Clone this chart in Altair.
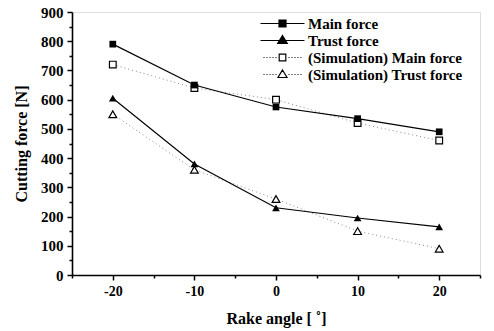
import altair as alt
import pandas as pd

rake = [-20, -10, 0, 10, 20]
main_force = [790, 650, 575, 535, 490]
trust_force = [605, 380, 230, 195, 165]
sim_main = [720, 640, 600, 520, 460]
sim_trust = [550, 360, 260, 150, 90]

series_names = ["Main force", "Trust force", "(Simulation) Main force", "(Simulation) Trust force"]
series_vals = [main_force, trust_force, sim_main, sim_trust]
kinds = ["square", "triangle", "square", "triangle"]
measured = [True, True, False, False]

rows = []
for name, vals, k, m in zip(series_names, series_vals, kinds, measured):
    for x, y in zip(rake, vals):
        rows.append({"angle": x, "force": y, "series": name, "kind": k, "measured": m})
df = pd.DataFrame(rows)

FONT = "Liberation Serif"

# ---- legend symbol paths (line + marker), designed in px then scaled ----
SYM_SIZE = 225
R = SYM_SIZE ** 0.5 / 2   # px per path unit


def u(v):
    return f"{v / R:.3f}"


def dotted(a, b, step=3.0, seg=1.0):
    parts = []
    x = a
    while x < b - 1e-6:
        parts.append(f"M{u(x)},0H{u(min(x + seg, b))}")
        x += step
    return "".join(parts)


def square(h, solid):
    p = f"M{u(-h)},{u(-h)}H{u(h)}V{u(h)}H{u(-h)}Z"
    if solid:
        y = -h + 1
        while y < h:
            p += f"M{u(-h)},{u(y)}H{u(h)}"
            y += 1
    return p


def triangle(top, bot, hw, solid):
    p = f"M0,{u(top)}L{u(hw)},{u(bot)}H{u(-hw)}Z"
    if solid:
        y = top + 1
        while y < bot:
            w = hw * (y - top) / (bot - top)
            p += f"M{u(-w)},{u(y)}H{u(w)}"
            y += 1
    return p


LH = 22  # half line length px
legend_paths = [
    f"M{u(-LH)},0H{u(LH)}" + square(3.5, True),
    f"M{u(-LH)},0H{u(LH)}" + triangle(-5, 3, 4.8, True),
    dotted(-LH + 3, -6) + dotted(6, LH - 3) + square(3.3, False),
    dotted(-LH + 3, -6) + dotted(6, LH - 3) + triangle(-4.5, 3, 4.5, False),
]

x_scale = alt.Scale(domain=[-25, 25], nice=False, zero=False)
y_scale = alt.Scale(domain=[0, 900], nice=False)

x_axis = alt.Axis(
    title="Rake angle [ ˚]",
    values=[-25, -20, -15, -10, -5, 0, 5, 10, 15, 20, 25],
    labelExpr="datum.value % 10 == 0 && abs(datum.value) < 25 ? toString(datum.value) : ''",
    tickSize={"condition": {"test": "datum.value % 10 != 0", "value": 3}, "value": 5},
    grid=False, domainColor="black", domainWidth=1.6, tickColor="black", tickWidth=1.5,
    labelFont=FONT, labelFontSize=14, labelFontWeight="bold", labelColor="black",
    labelPadding=4, titleFont=FONT, titleFontSize=16, titleFontWeight="bold",
    titleColor="black", titlePadding=12,
)
y_axis = alt.Axis(
    title="Cutting force [N]",
    values=list(range(0, 901, 50)),
    labelExpr="datum.value % 100 == 0 ? datum.label : ''",
    tickSize={"condition": {"test": "datum.value % 100 != 0", "value": 3}, "value": 5},
    grid=False, domainColor="black", domainWidth=1.6, tickColor="black", tickWidth=1.5,
    labelFont=FONT, labelFontSize=15, labelFontWeight="bold", labelColor="black",
    labelPadding=4, titleFont=FONT, titleFontSize=16, titleFontWeight="bold",
    titleColor="black", titlePadding=11,
)

base = alt.Chart(df)
X = alt.X("angle:Q", scale=x_scale, axis=x_axis)
Y = alt.Y("force:Q", scale=y_scale, axis=y_axis)

sim_lines = base.transform_filter("!datum.measured").mark_line(
    color="#8a8a8a", strokeWidth=1, strokeDash=[1, 3]
).encode(x=X, y=Y, detail="series:N")

meas_lines = base.transform_filter("datum.measured").mark_line(
    color="black", strokeWidth=1.2
).encode(x=X, y=Y, detail="series:N")


def pts(is_measured, kind):
    shp = "square" if kind == "square" else "triangle-up"
    sz = 45 if kind == "square" else 60
    flt = ("datum.measured" if is_measured else "!datum.measured") + f" && datum.kind == '{kind}'"
    if is_measured:
        mk = base.transform_filter(flt).mark_point(
            shape=shp, filled=True, color="black", size=sz, opacity=1)
    else:
        mk = base.transform_filter(flt).mark_point(
            shape=shp, filled=False, fill="white", stroke="black", strokeWidth=1.2, size=sz, opacity=1)
    return mk.encode(x=X, y=Y)


leg = alt.Legend(
    title=None, orient="none", legendX=202, legendY=3,
    symbolSize=SYM_SIZE, symbolStrokeColor="black", symbolStrokeWidth=1.2,
    symbolFillColor="transparent",
    symbolOpacity=1, labelFont=FONT, labelFontSize=15, labelFontWeight="bold",
    labelColor="black", labelOffset=17, rowPadding=0,
)

legend_layer = base.transform_filter("false").mark_point(
    filled=False, color="black", strokeWidth=1.2, size=SYM_SIZE, opacity=1
).encode(
    x=X, y=Y,
    shape=alt.Shape("series:N", scale=alt.Scale(domain=series_names, range=legend_paths), legend=leg),
)

chart = alt.layer(
    sim_lines, meas_lines, legend_layer,
    pts(False, "square"), pts(False, "triangle"), pts(True, "square"), pts(True, "triangle"),
).properties(
    width=408, height=263,
    autosize=alt.AutoSizeParams(type="none"),
    padding={"left": 72, "top": 12, "right": 14, "bottom": 56},
).configure_view(stroke=None).configure(background="white")

chart.save("out.html", embed_options={"renderer": "svg", "actions": False})
